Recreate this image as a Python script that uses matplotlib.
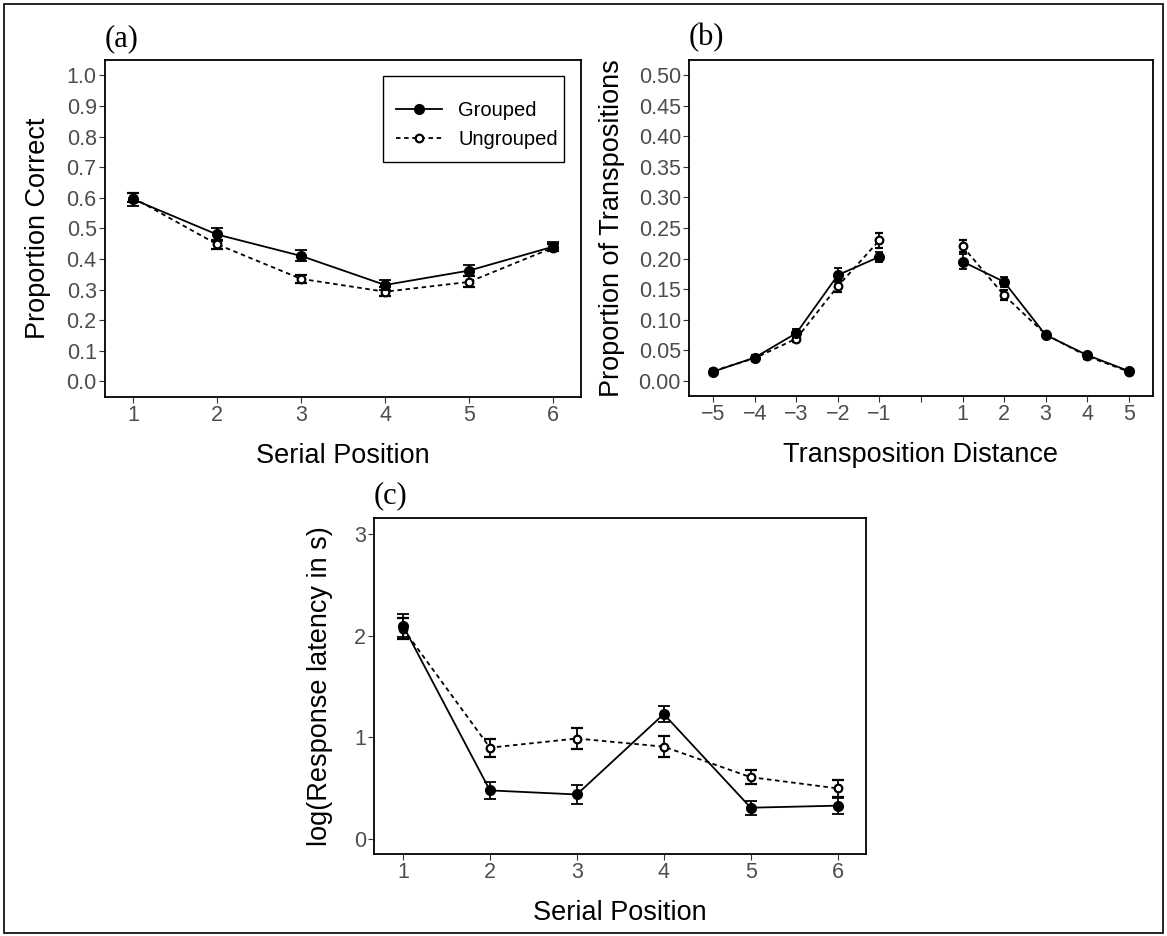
import matplotlib.pyplot as plt
from matplotlib.patches import Rectangle
from matplotlib.lines import Line2D

plt.rcParams['font.family'] = ['Liberation Sans', 'DejaVu Sans']

# panel (a): proportion correct by serial position
pos = [1, 2, 3, 4, 5, 6]
acc_grp = [0.595, 0.480, 0.410, 0.315, 0.362, 0.440]
acc_grp_err = [0.022, 0.020, 0.018, 0.015, 0.018, 0.015]
acc_ung = [0.600, 0.448, 0.335, 0.293, 0.325, 0.437]
acc_ung_err = [0.015, 0.015, 0.012, 0.015, 0.018, 0.012]

# panel (b): transposition gradients
dist_neg = [-5, -4, -3, -2, -1]
dist_pos = [1, 2, 3, 4, 5]
tr_grp_neg = [0.015, 0.038, 0.078, 0.173, 0.203]
tr_grp_pos = [0.195, 0.162, 0.075, 0.042, 0.016]
tr_ung_neg = [0.016, 0.037, 0.069, 0.155, 0.230]
tr_ung_pos = [0.220, 0.140, 0.076, 0.040, 0.015]
tr_grp_err_neg = [0.003, 0.004, 0.006, 0.012, 0.008]
tr_grp_err_pos = [0.012, 0.008, 0.004, 0.004, 0.002]
tr_ung_err_neg = [0.003, 0.004, 0.005, 0.010, 0.012]
tr_ung_err_pos = [0.010, 0.008, 0.004, 0.004, 0.002]
tr_ticks = [-5, -4, -3, -2, -1, 0, 1, 2, 3, 4, 5]
tr_labels = ['\u22125', '\u22124', '\u22123', '\u22122', '\u22121', '', '1', '2', '3', '4', '5']

# panel (c): log response latency
lat_grp = [2.10, 0.48, 0.44, 1.23, 0.31, 0.33]
lat_grp_err = [0.11, 0.08, 0.09, 0.08, 0.07, 0.08]
lat_ung = [2.07, 0.90, 0.99, 0.91, 0.61, 0.50]
lat_ung_err = [0.10, 0.09, 0.10, 0.10, 0.07, 0.08]

W, H = 1167, 936
fig = plt.figure(figsize=(W / 100, H / 100), dpi=100)
fig.patches.append(Rectangle((4 / W, 3 / H), 1 - 8 / W, 1 - 7 / H,
                             transform=fig.transFigure, fill=False,
                             edgecolor='black', linewidth=1.2))


def style_ax(ax):
    for s in ax.spines.values():
        s.set_linewidth(1.3)
        s.set_color('black')
    ax.tick_params(direction='out', length=4, width=0.8, color='#333333',
                   labelcolor='#4D4D4D', labelsize=15.5, pad=2)


def series(ax, x, y, err, filled, cap=4.5):
    if filled:
        ax.errorbar(x, y, yerr=err, color='black', ls='-', lw=1.3,
                    marker='o', ms=7, mfc='black', mec='black',
                    capsize=cap, elinewidth=1.3, capthick=1.3)
    else:
        ax.errorbar(x, y, yerr=err, color='black', ls=(0, (2.5, 2)), lw=1.3,
                    marker='o', ms=5.5, mfc='white', mec='black', mew=1.6,
                    capsize=cap, elinewidth=1.3, capthick=1.3)


# (a)
ax1 = fig.add_axes([105 / W, 1 - 396.7 / H, 476 / W, 336.7 / H])
series(ax1, pos, acc_ung, acc_ung_err, False)
series(ax1, pos, acc_grp, acc_grp_err, True)
ax1.set_xlim(0.667, 6.333)
ax1.set_ylim(-0.05, 1.05)
ax1.set_xticks(pos)
ax1.set_yticks([i / 10 for i in range(11)])
ax1.set_yticklabels(['%.1f' % (i / 10) for i in range(11)])
ax1.set_xlabel('Serial Position', fontsize=19.5, labelpad=12)
ax1.set_ylabel('Proportion Correct', fontsize=19.5, labelpad=11)
style_ax(ax1)
handles = [Line2D([], [], color='black', ls='-', lw=1.3, marker='o', ms=7),
           Line2D([], [], color='black', ls=(0, (2.5, 2)), lw=1.3, marker='o',
                  ms=5.5, mfc='white', mew=1.6)]
ax1.legend(handles, ['Grouped', 'Ungrouped'], loc='center',
           bbox_to_anchor=(0.7815, 0.807), fontsize=14.5, frameon=False,
           borderpad=0, handlelength=2.3, handletextpad=0.8,
           labelspacing=0.5)
ax1.add_patch(Rectangle((0.585, 0.697), 0.379, 0.255, transform=ax1.transAxes,
                        fill=False, edgecolor='black', linewidth=1.0,
                        zorder=5, clip_on=False))
fig.text(105 / W, 1 - 39 / H, '(a)', family='Liberation Serif', fontsize=22,
         va='center', ha='left')

# (b)
ax2 = fig.add_axes([689.3 / W, 1 - 396 / H, 463.4 / W, 336 / H])
series(ax2, dist_neg, tr_ung_neg, tr_ung_err_neg, False, cap=3)
series(ax2, dist_pos, tr_ung_pos, tr_ung_err_pos, False, cap=3)
series(ax2, dist_neg, tr_grp_neg, tr_grp_err_neg, True, cap=3)
series(ax2, dist_pos, tr_grp_pos, tr_grp_err_pos, True, cap=3)
ax2.set_xlim(-5.58, 5.58)
ax2.set_ylim(-0.025, 0.525)
ax2.set_xticks(tr_ticks)
ax2.set_xticklabels(tr_labels)
ax2.set_yticks([i * 0.05 for i in range(11)])
ax2.set_yticklabels(['%.2f' % (i * 0.05) for i in range(11)])
ax2.set_xlabel('Transposition Distance', fontsize=19.5, labelpad=12)
ax2.set_ylabel('Proportion of Transpositions', fontsize=19.5, labelpad=10)
style_ax(ax2)
fig.text(689 / W, 1 - 38 / H, '(b)', family='Liberation Serif', fontsize=22,
         va='center', ha='left')

# (c)
ax3 = fig.add_axes([374.3 / W, 1 - 854 / H, 492 / W, 336.3 / H])
series(ax3, pos, lat_ung, lat_ung_err, False)
series(ax3, pos, lat_grp, lat_grp_err, True)
ax3.set_xlim(0.67, 6.33)
ax3.set_ylim(-0.145, 3.16)
ax3.set_xticks(pos)
ax3.set_yticks([0, 1, 2, 3])
ax3.set_xlabel('Serial Position', fontsize=19.5, labelpad=12)
ax3.set_ylabel('log(Response latency in s)', fontsize=19.5, labelpad=15)
style_ax(ax3)
fig.text(374 / W, 1 - 496 / H, '(c)', family='Liberation Serif', fontsize=22,
         va='center', ha='left')

fig.savefig('out.png', dpi=100)
